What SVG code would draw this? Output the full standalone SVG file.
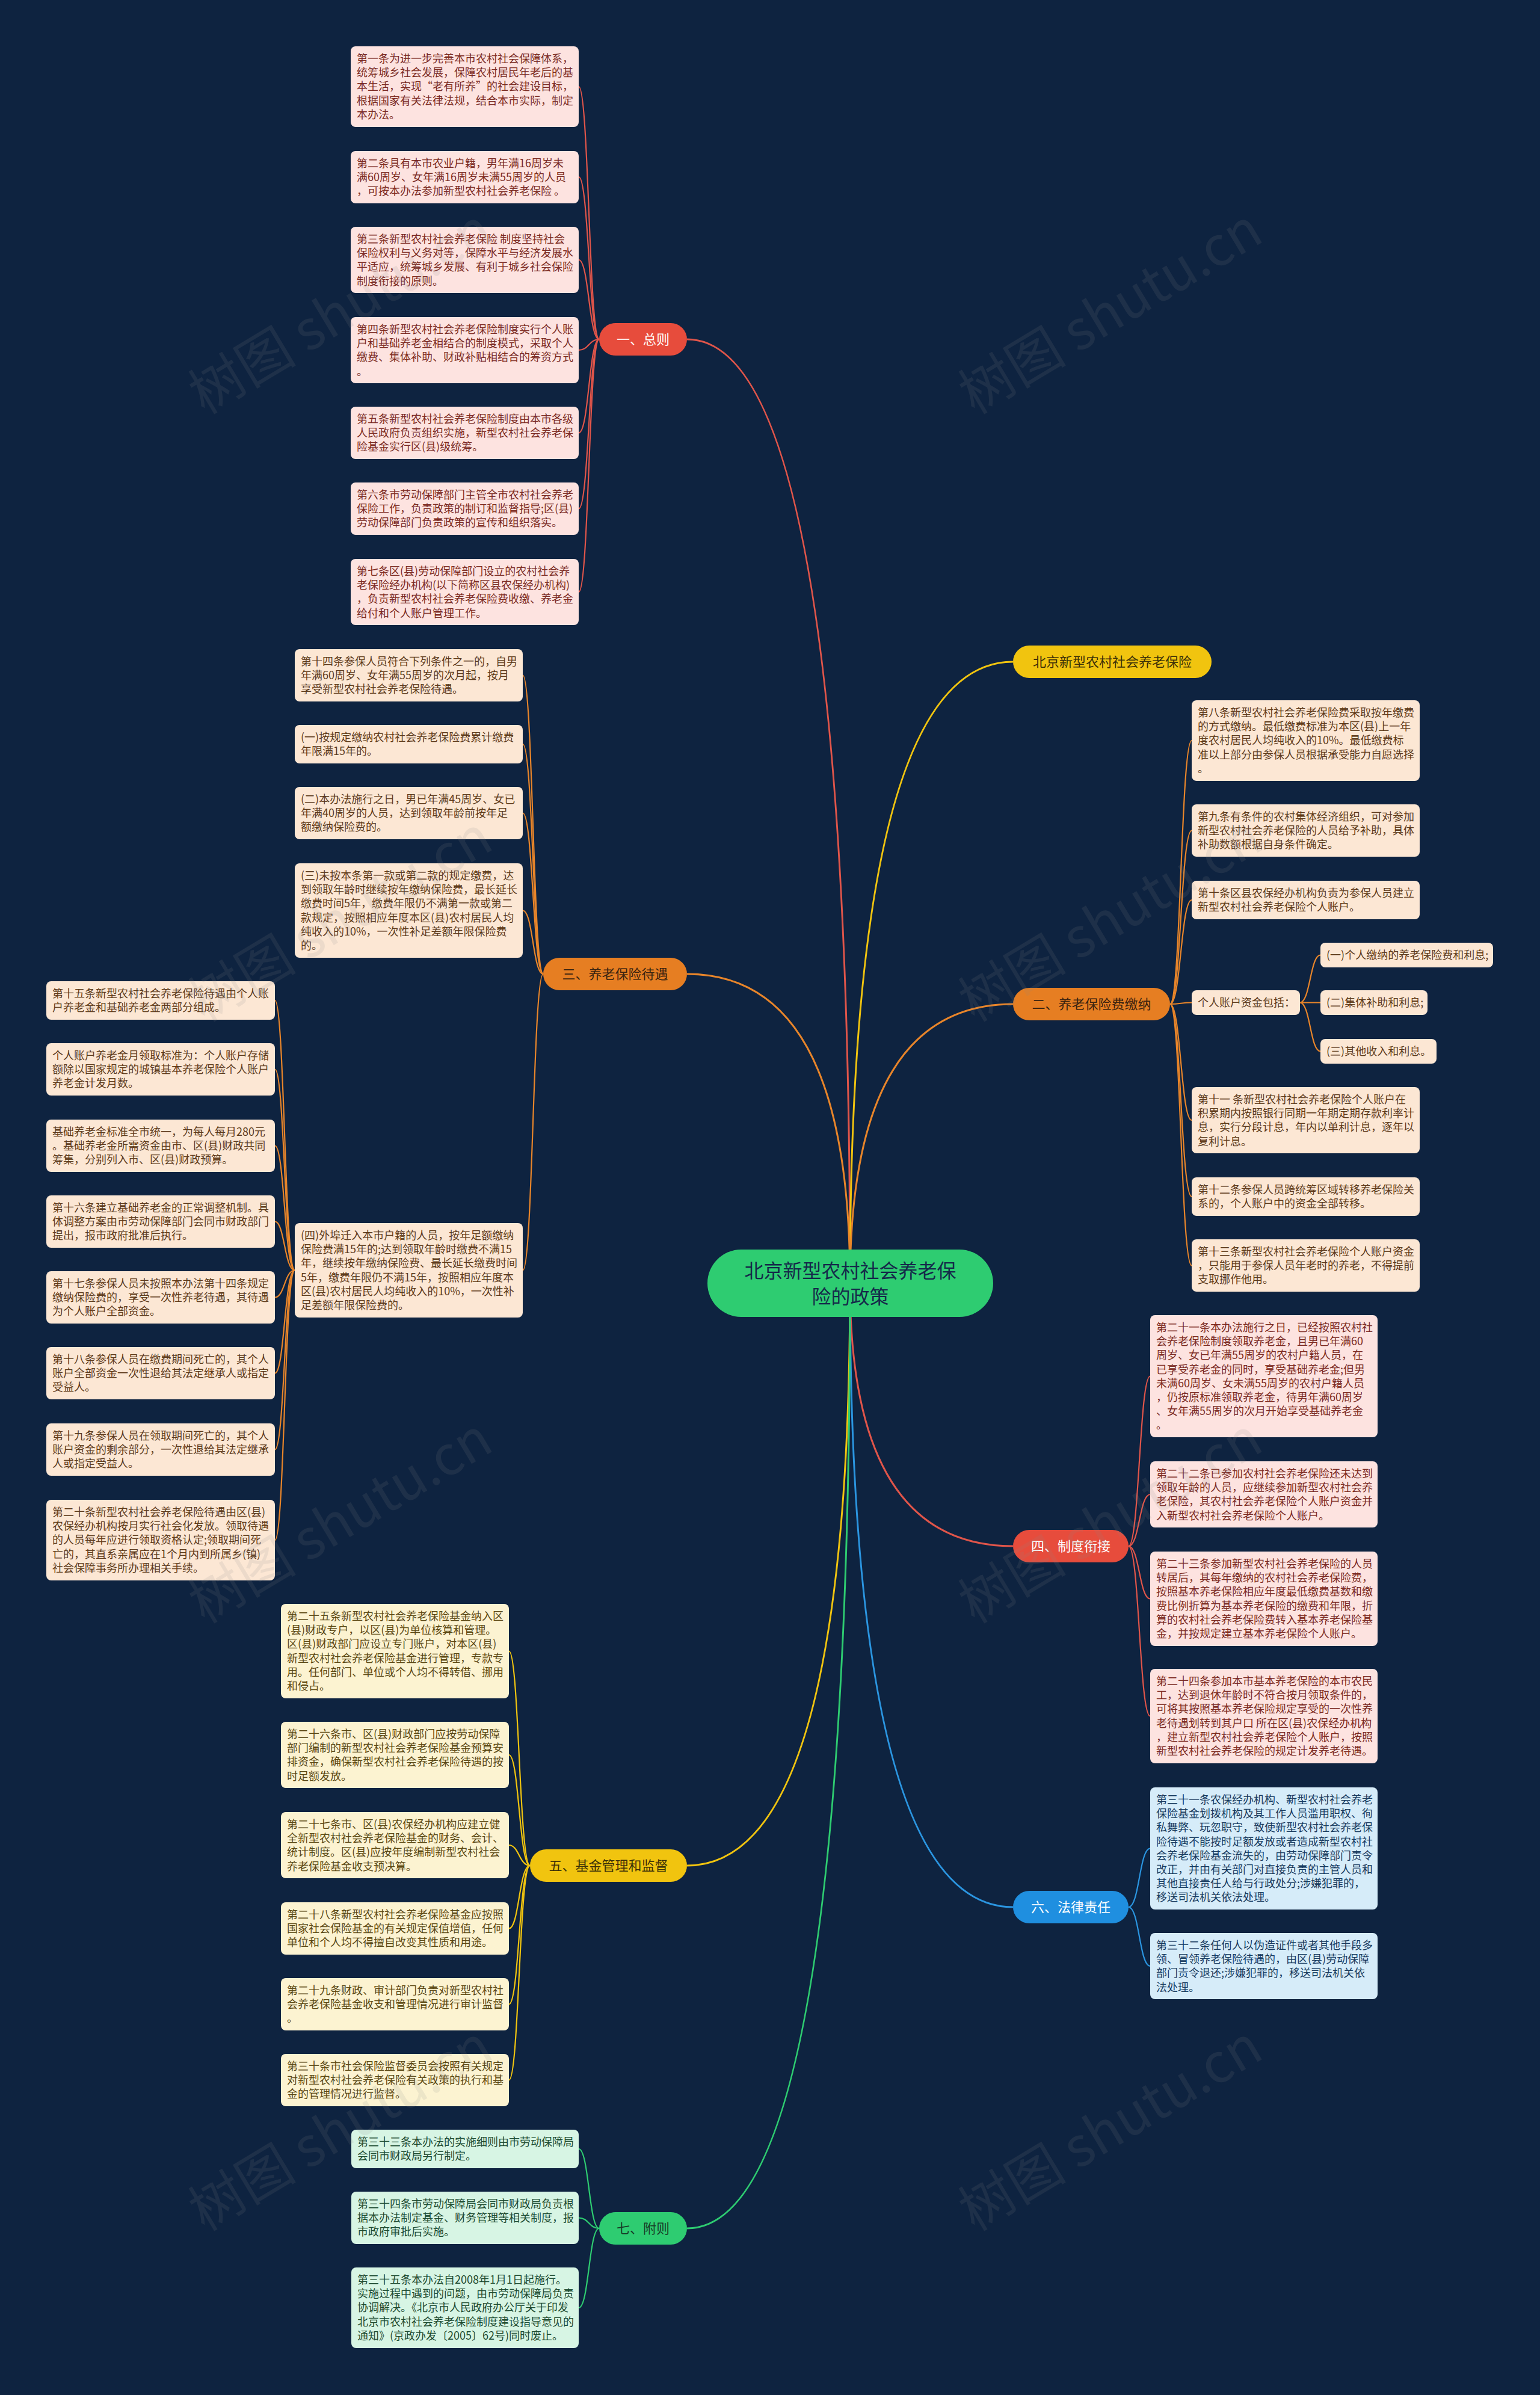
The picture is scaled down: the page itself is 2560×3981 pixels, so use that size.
<svg xmlns="http://www.w3.org/2000/svg" width="2560" height="3981" viewBox="0 0 2560 3981">
<style>
text{font-family:'Noto Sans CJK SC','Noto Sans',sans-serif}
.bx text{font-size:18px}
.bx rect{rx:8px}
.r rect{fill:#fde3e0}.r text{fill:#7b2a22}
.o rect{fill:#fce7d4}.o text{fill:#5d3a1a}
.y rect{fill:#fcf3d1}.y text{fill:#5a4712}
.b rect{fill:#d6ecf9}.b text{fill:#173a5e}
.g rect{fill:#d7f5e4}.g text{fill:#1c4a30}
.pl text{font-size:22px;text-anchor:middle}
.pr rect{fill:#e74c3c}.pr text{fill:#ffffff}
.po rect{fill:#e67e22}.po text{fill:#3b2410}
.py rect{fill:#f1c40f}.py text{fill:#3b3008}
.pb rect{fill:#1f8fe0}.pb text{fill:#ffffff}
.pg rect{fill:#2ecc71}.pg text{fill:#173d28}
.cn{fill:none;stroke-width:2.2}
.mc{fill:none;stroke-width:3}
.sr{stroke:#e0554a}.so{stroke:#e8852a}.sy{stroke:#f1c40f}.sb{stroke:#2b95e0}.sg{stroke:#2ecc71}
.wm{font-size:90px;fill:#8a8a8a;opacity:.13}
</style>
<rect width="2560" height="3981" fill="#0e2340"/>

<g id="connectors">
<path class="mc sr" d="M1413,2133 Q1413,564 1142,564"/>
<path class="mc sy" d="M1413,2133 Q1413,1100 1684,1100"/>
<path class="mc so" d="M1413,2133 Q1413,1619 1142,1619"/>
<path class="mc so" d="M1413,2133 Q1413,1669 1684,1669"/>
<path class="mc sr" d="M1413,2133 Q1413,2570 1684,2570"/>
<path class="mc sy" d="M1413,2133 Q1413,3101 1142,3101"/>
<path class="mc sb" d="M1413,2133 Q1413,3170 1684,3170"/>
<path class="mc sg" d="M1413,2133 Q1413,3704 1142,3704"/>

<g class="cn sr">
<path d="M996,564 C979,564 979,144 962,144"/>
<path d="M996,564 C979,564 979,294 962,294"/>
<path d="M996,564 C979,564 979,432 962,432"/>
<path d="M996,564 C979,564 979,582 962,582"/>
<path d="M996,564 C979,564 979,719.5 962,719.5"/>
<path d="M996,564 C979,564 979,845.5 962,845.5"/>
<path d="M996,564 C979,564 979,984 962,984"/>
</g>
<g class="cn so">
<path d="M903,1619 C886,1619 886,1122.5 869,1122.5"/>
<path d="M903,1619 C886,1619 886,1237 869,1237"/>
<path d="M903,1619 C886,1619 886,1351.5 869,1351.5"/>
<path d="M903,1619 C886,1619 886,1513.5 869,1513.5"/>
<path d="M903,1619 C886,1619 886,2111.5 869,2111.5"/>
<path d="M490,2111.5 C473,2111.5 473,1663 457,1663"/>
<path d="M490,2111.5 C473,2111.5 473,1777.5 457,1777.5"/>
<path d="M490,2111.5 C473,2111.5 473,1904.5 457,1904.5"/>
<path d="M490,2111.5 C473,2111.5 473,2030.5 457,2030.5"/>
<path d="M490,2111.5 C473,2111.5 473,2156.5 457,2156.5"/>
<path d="M490,2111.5 C473,2111.5 473,2282.5 457,2282.5"/>
<path d="M490,2111.5 C473,2111.5 473,2409.5 457,2409.5"/>
<path d="M490,2111.5 C473,2111.5 473,2560 457,2560"/>
<path d="M1945,1669 C1963,1669 1963,1231 1981,1231"/>
<path d="M1945,1669 C1963,1669 1963,1380.5 1981,1380.5"/>
<path d="M1945,1669 C1963,1669 1963,1496 1981,1496"/>
<path d="M1945,1669 C1963,1669 1963,1666.5 1981,1666.5"/>
<path d="M1945,1669 C1963,1669 1963,1862 1981,1862"/>
<path d="M1945,1669 C1963,1669 1963,1989 1981,1989"/>
<path d="M1945,1669 C1963,1669 1963,2103.5 1981,2103.5"/>
<path d="M2161,1666.5 C2178,1666.5 2178,1587.5 2195,1587.5"/>
<path d="M2161,1666.5 L2195,1666.5"/>
<path d="M2161,1666.5 C2178,1666.5 2178,1747.5 2195,1747.5"/>
</g>
<g class="cn sr">
<path d="M1876,2570 C1894,2570 1894,2287.5 1912,2287.5"/>
<path d="M1876,2570 C1894,2570 1894,2484 1912,2484"/>
<path d="M1876,2570 C1894,2570 1894,2657.5 1912,2657.5"/>
<path d="M1876,2570 C1894,2570 1894,2852.5 1912,2852.5"/>
</g>
<g class="cn sb">
<path d="M1876,3170 C1894,3170 1894,3072.5 1912,3072.5"/>
<path d="M1876,3170 C1894,3170 1894,3268 1912,3268"/>
</g>
<g class="cn sy">
<path d="M881,3101 C863,3101 863,2744.5 846,2744.5"/>
<path d="M881,3101 C863,3101 863,2917 846,2917"/>
<path d="M881,3101 C863,3101 863,3067 846,3067"/>
<path d="M881,3101 C863,3101 863,3205.5 846,3205.5"/>
<path d="M881,3101 C863,3101 863,3331.5 846,3331.5"/>
<path d="M881,3101 C863,3101 863,3457.5 846,3457.5"/>
</g>
<g class="cn sg">
<path d="M996,3704 C979,3704 979,3572 962,3572"/>
<path d="M996,3704 C979,3704 979,3686.5 962,3686.5"/>
<path d="M996,3704 C979,3704 979,3836 962,3836"/>
</g>
</g>

<g id="main"><rect x="1176" y="2077" width="475" height="112" rx="56" fill="#2ecc71"/>
<text font-size="32" fill="#15294a" text-anchor="middle"><tspan x="1413.5" y="2124">北京新型农村社会养老保</tspan><tspan x="1413.5" y="2167">险的政策</tspan></text></g>

<g id="p1" class="pl pr"><rect x="996" y="537" width="146" height="54" rx="27"/><text x="1069" y="572">一、总则</text></g>
<g id="p0" class="pl py"><rect x="1684" y="1073" width="330" height="54" rx="27"/><text x="1849" y="1108">北京新型农村社会养老保险</text></g>
<g id="p3" class="pl po"><rect x="903" y="1592" width="239" height="54" rx="27"/><text x="1022.5" y="1627">三、养老保险待遇</text></g>
<g id="p2" class="pl po"><rect x="1684" y="1642" width="261" height="54" rx="27"/><text x="1814.5" y="1677">二、养老保险费缴纳</text></g>
<g id="p4" class="pl pr"><rect x="1684" y="2543" width="192" height="54" rx="27"/><text x="1780" y="2578">四、制度衔接</text></g>
<g id="p5" class="pl py"><rect x="881" y="3074" width="261" height="54" rx="27"/><text x="1011.5" y="3109">五、基金管理和监督</text></g>
<g id="p6" class="pl pb"><rect x="1684" y="3143" width="192" height="54" rx="27"/><text x="1780" y="3178">六、法律责任</text></g>
<g id="p7" class="pl pg"><rect x="996" y="3677" width="146" height="54" rx="27"/><text x="1069" y="3712">七、附则</text></g>

<g id="n1" class="bx r"><rect x="583" y="77" width="379" height="134"/><text><tspan x="593" y="104">第一条为进一步完善本市农村社会保障体系，</tspan><tspan x="593" y="127.2">统筹城乡社会发展，保障农村居民年老后的基</tspan><tspan x="593" y="150.4">本生活，实现“老有所养”的社会建设目标，</tspan><tspan x="593" y="173.6">根据国家有关法律法规，结合本市实际，制定</tspan><tspan x="593" y="196.8">本办法。</tspan></text></g>
<g id="n2" class="bx r"><rect x="583" y="251" width="379" height="87"/><text><tspan x="593" y="278">第二条具有本市农业户籍，男年满16周岁未</tspan><tspan x="593" y="301.2">满60周岁、女年满16周岁未满55周岁的人员</tspan><tspan x="593" y="324.4">，可按本办法参加新型农村社会养老保险 。</tspan></text></g>
<g id="n3" class="bx r"><rect x="583" y="377" width="379" height="110"/><text><tspan x="593" y="404">第三条新型农村社会养老保险 制度坚持社会</tspan><tspan x="593" y="427.2">保险权利与义务对等，保障水平与经济发展水</tspan><tspan x="593" y="450.4">平适应，统筹城乡发展、有利于城乡社会保险</tspan><tspan x="593" y="473.6">制度衔接的原则。</tspan></text></g>
<g id="n4" class="bx r"><rect x="583" y="527" width="379" height="110"/><text><tspan x="593" y="554">第四条新型农村社会养老保险制度实行个人账</tspan><tspan x="593" y="577.2">户和基础养老金相结合的制度模式，采取个人</tspan><tspan x="593" y="600.4">缴费、集体补助、财政补贴相结合的筹资方式</tspan><tspan x="593" y="623.6">。</tspan></text></g>
<g id="n5" class="bx r"><rect x="583" y="676" width="379" height="87"/><text><tspan x="593" y="703">第五条新型农村社会养老保险制度由本市各级</tspan><tspan x="593" y="726.2">人民政府负责组织实施，新型农村社会养老保</tspan><tspan x="593" y="749.4">险基金实行区(县)级统筹。</tspan></text></g>
<g id="n6" class="bx r"><rect x="583" y="802" width="379" height="87"/><text><tspan x="593" y="829">第六条市劳动保障部门主管全市农村社会养老</tspan><tspan x="593" y="852.2">保险工作，负责政策的制订和监督指导;区(县)</tspan><tspan x="593" y="875.4">劳动保障部门负责政策的宣传和组织落实。</tspan></text></g>
<g id="n7" class="bx r"><rect x="583" y="929" width="379" height="110"/><text><tspan x="593" y="956">第七条区(县)劳动保障部门设立的农村社会养</tspan><tspan x="593" y="979.2">老保险经办机构(以下简称区县农保经办机构)</tspan><tspan x="593" y="1002.4">，负责新型农村社会养老保险费收缴、养老金</tspan><tspan x="593" y="1025.6">给付和个人账户管理工作。</tspan></text></g>

<g id="n14" class="bx o"><rect x="490" y="1079" width="379" height="87"/><text><tspan x="500" y="1106">第十四条参保人员符合下列条件之一的，自男</tspan><tspan x="500" y="1129.2">年满60周岁、女年满55周岁的次月起，按月</tspan><tspan x="500" y="1152.4">享受新型农村社会养老保险待遇。</tspan></text></g>
<g id="n14a" class="bx o"><rect x="490" y="1205" width="379" height="64"/><text><tspan x="500" y="1232">(一)按规定缴纳农村社会养老保险费累计缴费</tspan><tspan x="500" y="1255.2">年限满15年的。</tspan></text></g>
<g id="n14b" class="bx o"><rect x="490" y="1308" width="379" height="87"/><text><tspan x="500" y="1335">(二)本办法施行之日，男已年满45周岁、女已</tspan><tspan x="500" y="1358.2">年满40周岁的人员，达到领取年龄前按年足</tspan><tspan x="500" y="1381.4">额缴纳保险费的。</tspan></text></g>
<g id="n14c" class="bx o"><rect x="490" y="1435" width="379" height="157"/><text><tspan x="500" y="1462">(三)未按本条第一款或第二款的规定缴费，达</tspan><tspan x="500" y="1485.2">到领取年龄时继续按年缴纳保险费，最长延长</tspan><tspan x="500" y="1508.4">缴费时间5年，缴费年限仍不满第一款或第二</tspan><tspan x="500" y="1531.6">款规定，按照相应年度本区(县)农村居民人均</tspan><tspan x="500" y="1554.8">纯收入的10%，一次性补足差额年限保险费</tspan><tspan x="500" y="1578">的。</tspan></text></g>
<g id="n14d" class="bx o"><rect x="490" y="2033" width="379" height="157"/><text><tspan x="500" y="2060">(四)外埠迁入本市户籍的人员，按年足额缴纳</tspan><tspan x="500" y="2083.2">保险费满15年的;达到领取年龄时缴费不满15</tspan><tspan x="500" y="2106.4">年，继续按年缴纳保险费、最长延长缴费时间</tspan><tspan x="500" y="2129.6">5年，缴费年限仍不满15年，按照相应年度本</tspan><tspan x="500" y="2152.8">区(县)农村居民人均纯收入的10%，一次性补</tspan><tspan x="500" y="2176">足差额年限保险费的。</tspan></text></g>

<g id="n15" class="bx o"><rect x="77" y="1631" width="380" height="64"/><text><tspan x="87" y="1658">第十五条新型农村社会养老保险待遇由个人账</tspan><tspan x="87" y="1681.2">户养老金和基础养老金两部分组成。</tspan></text></g>
<g id="n15a" class="bx o"><rect x="77" y="1734" width="380" height="87"/><text><tspan x="87" y="1761">个人账户养老金月领取标准为：个人账户存储</tspan><tspan x="87" y="1784.2">额除以国家规定的城镇基本养老保险个人账户</tspan><tspan x="87" y="1807.4">养老金计发月数。</tspan></text></g>
<g id="n15b" class="bx o"><rect x="77" y="1861" width="380" height="87"/><text><tspan x="87" y="1888">基础养老金标准全市统一，为每人每月280元</tspan><tspan x="87" y="1911.2">。基础养老金所需资金由市、区(县)财政共同</tspan><tspan x="87" y="1934.4">筹集，分别列入市、区(县)财政预算。</tspan></text></g>
<g id="n16" class="bx o"><rect x="77" y="1987" width="380" height="87"/><text><tspan x="87" y="2014">第十六条建立基础养老金的正常调整机制。具</tspan><tspan x="87" y="2037.2">体调整方案由市劳动保障部门会同市财政部门</tspan><tspan x="87" y="2060.4">提出，报市政府批准后执行。</tspan></text></g>
<g id="n17" class="bx o"><rect x="77" y="2113" width="380" height="87"/><text><tspan x="87" y="2140">第十七条参保人员未按照本办法第十四条规定</tspan><tspan x="87" y="2163.2">缴纳保险费的，享受一次性养老待遇，其待遇</tspan><tspan x="87" y="2186.4">为个人账户全部资金。</tspan></text></g>
<g id="n18" class="bx o"><rect x="77" y="2239" width="380" height="87"/><text><tspan x="87" y="2266">第十八条参保人员在缴费期间死亡的，其个人</tspan><tspan x="87" y="2289.2">账户全部资金一次性退给其法定继承人或指定</tspan><tspan x="87" y="2312.4">受益人。</tspan></text></g>
<g id="n19" class="bx o"><rect x="77" y="2366" width="380" height="87"/><text><tspan x="87" y="2393">第十九条参保人员在领取期间死亡的，其个人</tspan><tspan x="87" y="2416.2">账户资金的剩余部分，一次性退给其法定继承</tspan><tspan x="87" y="2439.4">人或指定受益人。</tspan></text></g>
<g id="n20" class="bx o"><rect x="77" y="2493" width="380" height="134"/><text><tspan x="87" y="2520">第二十条新型农村社会养老保险待遇由区(县)</tspan><tspan x="87" y="2543.2">农保经办机构按月实行社会化发放。领取待遇</tspan><tspan x="87" y="2566.4">的人员每年应进行领取资格认定;领取期间死</tspan><tspan x="87" y="2589.6">亡的，其直系亲属应在1个月内到所属乡(镇)</tspan><tspan x="87" y="2612.8">社会保障事务所办理相关手续。</tspan></text></g>

<g id="n8" class="bx o"><rect x="1981" y="1164" width="379" height="134"/><text><tspan x="1991" y="1191">第八条新型农村社会养老保险费采取按年缴费</tspan><tspan x="1991" y="1214.2">的方式缴纳。最低缴费标准为本区(县)上一年</tspan><tspan x="1991" y="1237.4">度农村居民人均纯收入的10%。最低缴费标</tspan><tspan x="1991" y="1260.6">准以上部分由参保人员根据承受能力自愿选择</tspan><tspan x="1991" y="1283.8">。</tspan></text></g>
<g id="n9" class="bx o"><rect x="1981" y="1337" width="379" height="87"/><text><tspan x="1991" y="1364">第九条有条件的农村集体经济组织，可对参加</tspan><tspan x="1991" y="1387.2">新型农村社会养老保险的人员给予补助，具体</tspan><tspan x="1991" y="1410.4">补助数额根据自身条件确定。</tspan></text></g>
<g id="n10" class="bx o"><rect x="1981" y="1464" width="379" height="64"/><text><tspan x="1991" y="1491">第十条区县农保经办机构负责为参保人员建立</tspan><tspan x="1991" y="1514.2">新型农村社会养老保险个人账户。</tspan></text></g>
<g id="nacc" class="bx o"><rect x="1981" y="1646" width="180" height="41"/><text><tspan x="1991" y="1673">个人账户资金包括：</tspan></text></g>
<g id="nacc1" class="bx o"><rect x="2195" y="1567" width="287" height="41"/><text><tspan x="2205" y="1594">(一)个人缴纳的养老保险费和利息;</tspan></text></g>
<g id="nacc2" class="bx o"><rect x="2195" y="1646" width="178" height="41"/><text><tspan x="2205" y="1673">(二)集体补助和利息;</tspan></text></g>
<g id="nacc3" class="bx o"><rect x="2195" y="1727" width="193" height="41"/><text><tspan x="2205" y="1754">(三)其他收入和利息。</tspan></text></g>
<g id="n11" class="bx o"><rect x="1981" y="1807" width="379" height="110"/><text><tspan x="1991" y="1834">第十一 条新型农村社会养老保险个人账户在</tspan><tspan x="1991" y="1857.2">积累期内按照银行同期一年期定期存款利率计</tspan><tspan x="1991" y="1880.4">息，实行分段计息，年内以单利计息，逐年以</tspan><tspan x="1991" y="1903.6">复利计息。</tspan></text></g>
<g id="n12" class="bx o"><rect x="1981" y="1957" width="379" height="64"/><text><tspan x="1991" y="1984">第十二条参保人员跨统筹区域转移养老保险关</tspan><tspan x="1991" y="2007.2">系的，个人账户中的资金全部转移。</tspan></text></g>
<g id="n13" class="bx o"><rect x="1981" y="2060" width="379" height="87"/><text><tspan x="1991" y="2087">第十三条新型农村社会养老保险个人账户资金</tspan><tspan x="1991" y="2110.2">，只能用于参保人员年老时的养老，不得提前</tspan><tspan x="1991" y="2133.4">支取挪作他用。</tspan></text></g>

<g id="n21" class="bx r"><rect x="1912" y="2186" width="378" height="203"/><text><tspan x="1922" y="2213">第二十一条本办法施行之日，已经按照农村社</tspan><tspan x="1922" y="2236.2">会养老保险制度领取养老金，且男已年满60</tspan><tspan x="1922" y="2259.4">周岁、女已年满55周岁的农村户籍人员，在</tspan><tspan x="1922" y="2282.6">已享受养老金的同时，享受基础养老金;但男</tspan><tspan x="1922" y="2305.8">未满60周岁、女未满55周岁的农村户籍人员</tspan><tspan x="1922" y="2329">，仍按原标准领取养老金，待男年满60周岁</tspan><tspan x="1922" y="2352.2">、女年满55周岁的次月开始享受基础养老金</tspan><tspan x="1922" y="2375.4">。</tspan></text></g>
<g id="n22" class="bx r"><rect x="1912" y="2429" width="378" height="110"/><text><tspan x="1922" y="2456">第二十二条已参加农村社会养老保险还未达到</tspan><tspan x="1922" y="2479.2">领取年龄的人员，应继续参加新型农村社会养</tspan><tspan x="1922" y="2502.4">老保险，其农村社会养老保险个人账户资金并</tspan><tspan x="1922" y="2525.6">入新型农村社会养老保险个人账户。</tspan></text></g>
<g id="n23" class="bx r"><rect x="1912" y="2579" width="378" height="157"/><text><tspan x="1922" y="2606">第二十三条参加新型农村社会养老保险的人员</tspan><tspan x="1922" y="2629.2">转居后，其每年缴纳的农村社会养老保险费，</tspan><tspan x="1922" y="2652.4">按照基本养老保险相应年度最低缴费基数和缴</tspan><tspan x="1922" y="2675.6">费比例折算为基本养老保险的缴费和年限，折</tspan><tspan x="1922" y="2698.8">算的农村社会养老保险费转入基本养老保险基</tspan><tspan x="1922" y="2722">金，并按规定建立基本养老保险个人账户。</tspan></text></g>
<g id="n24" class="bx r"><rect x="1912" y="2774" width="378" height="157"/><text><tspan x="1922" y="2801">第二十四条参加本市基本养老保险的本市农民</tspan><tspan x="1922" y="2824.2">工，达到退休年龄时不符合按月领取条件的，</tspan><tspan x="1922" y="2847.4">可将其按照基本养老保险规定享受的一次性养</tspan><tspan x="1922" y="2870.6">老待遇划转到其户口 所在区(县)农保经办机构</tspan><tspan x="1922" y="2893.8">，建立新型农村社会养老保险个人账户，按照</tspan><tspan x="1922" y="2917">新型农村社会养老保险的规定计发养老待遇。</tspan></text></g>

<g id="n31" class="bx b"><rect x="1912" y="2971" width="378" height="203"/><text><tspan x="1922" y="2998">第三十一条农保经办机构、新型农村社会养老</tspan><tspan x="1922" y="3021.2">保险基金划拨机构及其工作人员滥用职权、徇</tspan><tspan x="1922" y="3044.4">私舞弊、玩忽职守，致使新型农村社会养老保</tspan><tspan x="1922" y="3067.6">险待遇不能按时足额发放或者造成新型农村社</tspan><tspan x="1922" y="3090.8">会养老保险基金流失的，由劳动保障部门责令</tspan><tspan x="1922" y="3114">改正，并由有关部门对直接负责的主管人员和</tspan><tspan x="1922" y="3137.2">其他直接责任人给与行政处分;涉嫌犯罪的，</tspan><tspan x="1922" y="3160.4">移送司法机关依法处理。</tspan></text></g>
<g id="n32" class="bx b"><rect x="1912" y="3213" width="378" height="110"/><text><tspan x="1922" y="3240">第三十二条任何人以伪造证件或者其他手段多</tspan><tspan x="1922" y="3263.2">领、冒领养老保险待遇的，由区(县)劳动保障</tspan><tspan x="1922" y="3286.4">部门责令退还;涉嫌犯罪的，移送司法机关依</tspan><tspan x="1922" y="3309.6">法处理。</tspan></text></g>

<g id="n25" class="bx y"><rect x="467" y="2666" width="379" height="157"/><text><tspan x="477" y="2693">第二十五条新型农村社会养老保险基金纳入区</tspan><tspan x="477" y="2716.2">(县)财政专户，以区(县)为单位核算和管理。</tspan><tspan x="477" y="2739.4">区(县)财政部门应设立专门账户，对本区(县)</tspan><tspan x="477" y="2762.6">新型农村社会养老保险基金进行管理，专款专</tspan><tspan x="477" y="2785.8">用。任何部门、单位或个人均不得转借、挪用</tspan><tspan x="477" y="2809">和侵占。</tspan></text></g>
<g id="n26" class="bx y"><rect x="467" y="2862" width="379" height="110"/><text><tspan x="477" y="2889">第二十六条市、区(县)财政部门应按劳动保障</tspan><tspan x="477" y="2912.2">部门编制的新型农村社会养老保险基金预算安</tspan><tspan x="477" y="2935.4">排资金，确保新型农村社会养老保险待遇的按</tspan><tspan x="477" y="2958.6">时足额发放。</tspan></text></g>
<g id="n27" class="bx y"><rect x="467" y="3012" width="379" height="110"/><text><tspan x="477" y="3039">第二十七条市、区(县)农保经办机构应建立健</tspan><tspan x="477" y="3062.2">全新型农村社会养老保险基金的财务、会计、</tspan><tspan x="477" y="3085.4">统计制度。区(县)应按年度编制新型农村社会</tspan><tspan x="477" y="3108.6">养老保险基金收支预决算。</tspan></text></g>
<g id="n28" class="bx y"><rect x="467" y="3162" width="379" height="87"/><text><tspan x="477" y="3189">第二十八条新型农村社会养老保险基金应按照</tspan><tspan x="477" y="3212.2">国家社会保险基金的有关规定保值增值，任何</tspan><tspan x="477" y="3235.4">单位和个人均不得擅自改变其性质和用途。</tspan></text></g>
<g id="n29" class="bx y"><rect x="467" y="3288" width="379" height="87"/><text><tspan x="477" y="3315">第二十九条财政、审计部门负责对新型农村社</tspan><tspan x="477" y="3338.2">会养老保险基金收支和管理情况进行审计监督</tspan><tspan x="477" y="3361.4">。</tspan></text></g>
<g id="n30" class="bx y"><rect x="467" y="3414" width="379" height="87"/><text><tspan x="477" y="3441">第三十条市社会保险监督委员会按照有关规定</tspan><tspan x="477" y="3464.2">对新型农村社会养老保险有关政策的执行和基</tspan><tspan x="477" y="3487.4">金的管理情况进行监督。</tspan></text></g>

<g id="n33" class="bx g"><rect x="584" y="3540" width="378" height="64"/><text><tspan x="594" y="3567">第三十三条本办法的实施细则由市劳动保障局</tspan><tspan x="594" y="3590.2">会同市财政局另行制定。</tspan></text></g>
<g id="n34" class="bx g"><rect x="584" y="3643" width="378" height="87"/><text><tspan x="594" y="3670">第三十四条市劳动保障局会同市财政局负责根</tspan><tspan x="594" y="3693.2">据本办法制定基金、财务管理等相关制度，报</tspan><tspan x="594" y="3716.4">市政府审批后实施。</tspan></text></g>
<g id="n35" class="bx g"><rect x="584" y="3769" width="378" height="134"/><text><tspan x="594" y="3796">第三十五条本办法自2008年1月1日起施行。</tspan><tspan x="594" y="3819.2">实施过程中遇到的问题，由市劳动保障局负责</tspan><tspan x="594" y="3842.4">协调解决。《北京市人民政府办公厅关于印发</tspan><tspan x="594" y="3865.6">北京市农村社会养老保险制度建设指导意见的</tspan><tspan x="594" y="3888.8">通知》(京政办发〔2005〕62号)同时废止。</tspan></text></g>

<g id="watermarks">
<text class="wm" transform="translate(340,690) rotate(-31)">树图 shutu.cn</text>
<text class="wm" transform="translate(1620,690) rotate(-31)">树图 shutu.cn</text>
<text class="wm" transform="translate(340,1700) rotate(-31)">树图 shutu.cn</text>
<text class="wm" transform="translate(1620,1700) rotate(-31)">树图 shutu.cn</text>
<text class="wm" transform="translate(340,2700) rotate(-31)">树图 shutu.cn</text>
<text class="wm" transform="translate(1620,2700) rotate(-31)">树图 shutu.cn</text>
<text class="wm" transform="translate(340,3710) rotate(-31)">树图 shutu.cn</text>
<text class="wm" transform="translate(1620,3710) rotate(-31)">树图 shutu.cn</text>
</g>
</svg>
